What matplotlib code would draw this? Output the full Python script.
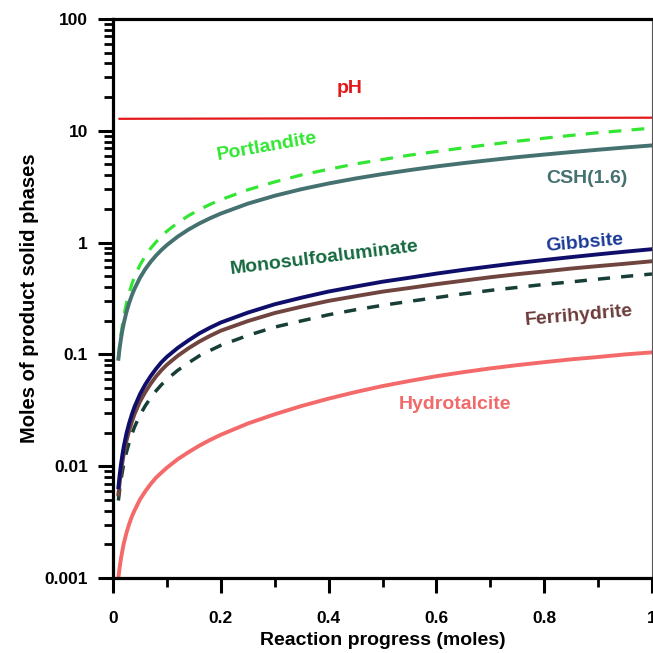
import matplotlib
matplotlib.use("Agg")
import matplotlib.pyplot as plt
from matplotlib.ticker import LogLocator, FixedLocator, NullFormatter

plt.rcParams['font.family'] = ['Liberation Sans', 'DejaVu Sans']
plt.rcParams['font.weight'] = 'bold'

# ---- data ----
progress = [0.01, 0.0125, 0.015, 0.0175, 0.02, 0.025, 0.03, 0.035, 0.04, 0.05,
            0.06, 0.07, 0.08, 0.09, 0.1, 0.12, 0.14, 0.16, 0.18, 0.2,
            0.25, 0.3, 0.35, 0.4, 0.45, 0.5, 0.55, 0.6, 0.65, 0.7,
            0.75, 0.8, 0.85, 0.9, 0.95, 1.0]
portlandite = [0.091, 0.122, 0.153, 0.185, 0.219, 0.288, 0.355, 0.426, 0.495, 0.629,
               0.760, 0.890, 1.014, 1.144, 1.265, 1.504, 1.740, 1.970, 2.196, 2.419,
               2.965, 3.490, 4.031, 4.529, 5.056, 5.535, 6.052, 6.528, 7.042, 7.549,
               8.076, 8.582, 9.095, 9.613, 10.07, 10.58]
csh = [0.0914, 0.1158, 0.1404, 0.1652, 0.190, 0.2396, 0.289, 0.338, 0.387, 0.484,
       0.580, 0.674, 0.768, 0.860, 0.951, 1.131, 1.308, 1.481, 1.651, 1.819,
       2.229, 2.624, 3.008, 3.38, 3.745, 4.10, 4.45, 4.80, 5.14, 5.47,
       5.81, 6.13, 6.45, 6.77, 7.09, 7.4]
gibbsite = [0.00649, 0.00845, 0.01053, 0.01272, 0.01501, 0.01965, 0.02428, 0.02907, 0.03406, 0.04404,
            0.05394, 0.06403, 0.07450, 0.08514, 0.0951, 0.1142, 0.1334, 0.1540, 0.1734, 0.1928,
            0.2363, 0.2808, 0.3219, 0.3650, 0.4045, 0.4469, 0.4851, 0.528, 0.5705, 0.6126,
            0.6565, 0.6988, 0.7418, 0.7853, 0.8295, 0.8732]
ferrihydrite = [0.00558, 0.00727, 0.00906, 0.01094, 0.01291, 0.01690, 0.02088, 0.02500, 0.02929, 0.03787,
                0.04612, 0.05475, 0.06370, 0.07237, 0.08084, 0.09707, 0.1134, 0.1301, 0.1465, 0.1629,
                0.1985, 0.2345, 0.2672, 0.3011, 0.3317, 0.3642, 0.3929, 0.4250, 0.4564, 0.4901,
                0.5219, 0.5521, 0.5860, 0.6165, 0.6470, 0.6811]
monosulfo = [0.00493, 0.00625, 0.00758, 0.00903, 0.01051, 0.01336, 0.01627, 0.01933, 0.02248, 0.02863,
             0.03479, 0.04098, 0.04731, 0.05364, 0.05991, 0.07195, 0.08404, 0.09702, 0.1084, 0.1205,
             0.1477, 0.1755, 0.1996, 0.2263, 0.2508, 0.2748, 0.2983, 0.3221, 0.3480, 0.3737,
             0.3972, 0.4228, 0.4451, 0.4712, 0.4977, 0.5239]
hydrotalcite = [0.001005, 0.001262, 0.001516, 0.001768, 0.002033, 0.00254, 0.003035, 0.003549, 0.004025, 0.005034,
                0.005974, 0.006942, 0.00791, 0.008772, 0.0097, 0.01154, 0.01334, 0.01525, 0.01717, 0.0191,
                0.02407, 0.02913, 0.03459, 0.04022, 0.04606, 0.05207, 0.05785, 0.06384, 0.06939, 0.07494,
                0.08018, 0.08521, 0.0903, 0.09478, 0.09997, 0.1043]
ph_x = [0.01, 1.0]
ph_y = [12.8, 13.1]

x_ticks = [0, 0.2, 0.4, 0.6, 0.8, 1.0]
x_ticklabels = ["0", "0.2", "0.4", "0.6", "0.8", "1"]
y_ticks = [0.001, 0.01, 0.1, 1, 10, 100]
y_ticklabels = ["0.001", "0.01", "0.1", "1", "10", "100"]

# ---- figure ----
fig = plt.figure(figsize=(6.53, 6.53), dpi=100)
ax = fig.add_axes([113/653, 1 - 578/653, 539/653, (578 - 19)/653])

ax.plot(ph_x, ph_y, color="#e3191c", lw=1.6, solid_capstyle='butt')
ax.plot(progress, portlandite, color="#33e633", lw=2.3, dashes=(4, 3.2))
ax.plot(progress, csh, color="#457170", lw=2.8)
ax.plot(progress, monosulfo, color="#173f38", lw=2.5, dashes=(3.5, 3.2))
ax.plot(progress, ferrihydrite, color="#70443f", lw=2.8)
ax.plot(progress, gibbsite, color="#0f0f6b", lw=2.8)
ax.plot(progress, hydrotalcite, color="#f46a6a", lw=2.8)

ax.set_yscale('log')
ax.set_xlim(0, 1.0)
ax.set_ylim(0.001, 100)

ax.set_xticks(x_ticks)
ax.set_xticklabels(x_ticklabels)
ax.xaxis.set_minor_locator(FixedLocator([0.1, 0.3, 0.5, 0.7, 0.9]))
ax.set_yticks(y_ticks)
ax.set_yticklabels(y_ticklabels)
ax.yaxis.set_minor_locator(LogLocator(base=10, subs=range(2, 10), numticks=20))
ax.yaxis.set_minor_formatter(NullFormatter())

ax.tick_params(which='major', direction='out', length=11, width=2.2, labelsize=12.5)
ax.tick_params(axis='x', which='major', pad=13)
ax.tick_params(axis='y', which='major', pad=7)
ax.tick_params(which='minor', direction='out', length=6.5, width=2.0)
for lab in ax.get_xticklabels() + ax.get_yticklabels():
    lab.set_fontweight('bold')

for s in ['left', 'bottom', 'top']:
    ax.spines[s].set_linewidth(2.3)
ax.spines['right'].set_linewidth(0.8)
ax.spines['right'].set_color('#555555')

ax.set_xlabel("Reaction progress (moles)", fontsize=14, fontweight='bold', labelpad=4)
ax.set_ylabel("Moles of product solid phases", fontsize=14.5, fontweight='bold', labelpad=4)

lab_kw = dict(fontsize=14, fontweight='bold', ha='center', va='center')
ax.text(0.439, 23.8, "pH", color="#e3191c", **lab_kw)
ax.text(0.285, 7.2, "Portlandite", color="#33e633", rotation=10, **lab_kw)
ax.text(0.88, 3.74, "CSH(1.6)", color="#457170", **lab_kw)
ax.text(0.393, 0.734, "Monosulfoaluminate", color="#16693f", rotation=7, **lab_kw)
ax.text(0.874, 0.98, "Gibbsite", color="#1b3a96", rotation=5, **lab_kw)
ax.text(0.865, 0.222, "Ferrihydrite", color="#6b3c3a", rotation=5, **lab_kw)
ax.text(0.635, 0.0356, "Hydrotalcite", color="#f06a6a", **lab_kw)

fig.savefig("out.png", dpi=100)
